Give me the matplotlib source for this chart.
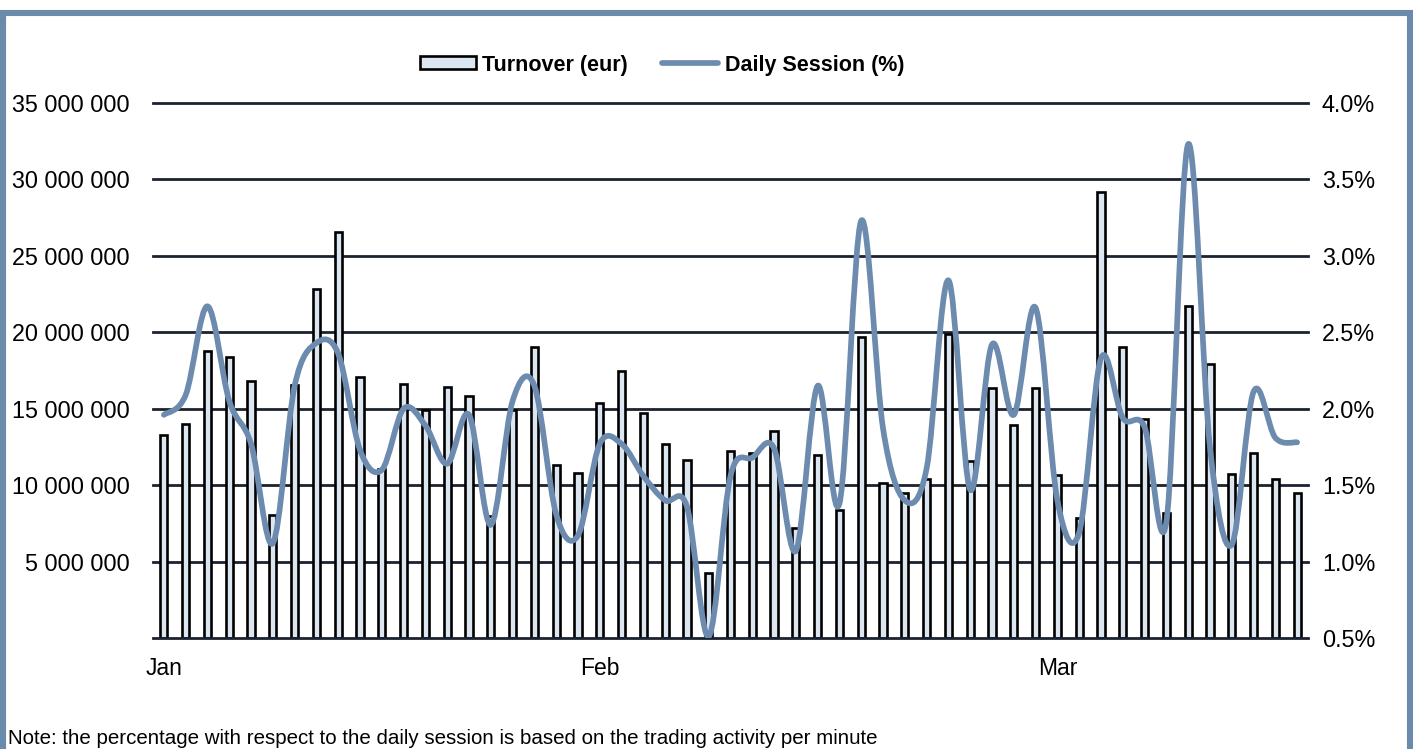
import numpy as np
import matplotlib
matplotlib.use("Agg")
import matplotlib.pyplot as plt
from matplotlib.path import Path
from matplotlib.patches import PathPatch, Rectangle
from matplotlib.lines import Line2D
from matplotlib.ticker import FuncFormatter

plt.rcParams["font.family"] = ["Liberation Sans", "DejaVu Sans"]

# daily turnover (eur), one value per trading day
turnover = [13.25, 14.03, 18.79, 18.40, 16.83, 8.02, 16.53, 22.86, 26.55, 17.06,
            11.06, 16.64, 14.89, 16.43, 15.83, 7.98, 14.89, 19.05, 11.34, 10.82,
            15.38, 17.48, 14.73, 12.69, 11.62, 4.28, 12.23, 12.11, 13.51, 7.18,
            11.99, 8.35, 19.68, 10.17, 9.47, 10.40, 19.92, 11.57, 16.36, 13.96,
            16.36, 10.64, 7.83, 29.15, 19.05, 14.31, 8.18, 21.74, 17.93, 10.75,
            12.11, 10.40, 9.47]
turnover = [v * 1e6 for v in turnover]

# share of daily session (%)
session = [1.96, 2.09, 2.67, 2.05, 1.77, 1.12, 2.15, 2.43, 2.36, 1.73,
           1.60, 2.00, 1.89, 1.64, 1.96, 1.24, 2.05, 2.15, 1.31, 1.17,
           1.77, 1.77, 1.56, 1.40, 1.36, 0.51, 1.56, 1.68, 1.74, 1.07,
           2.15, 1.38, 3.23, 1.87, 1.40, 1.61, 2.84, 1.47, 2.42, 1.96,
           2.66, 1.40, 1.19, 2.33, 1.94, 1.88, 1.26, 3.73, 1.75, 1.11,
           2.11, 1.81, 1.78]

month_labels = ["Jan", "Feb", "Mar"]
month_pos = [0, 20, 41]

left_ticks = [5e6, 10e6, 15e6, 20e6, 25e6, 30e6, 35e6]
right_ticks = [0.5, 1.0, 1.5, 2.0, 2.5, 3.0, 3.5, 4.0]

bar_fill = "#dce6f0"
line_col = "#6c8baf"
grid_col = "#1b2230"
frame_col = "#6b8bad"

fig = plt.figure(figsize=(14.13, 7.49), dpi=100)
ax = fig.add_axes([153 / 1413, 1 - 638 / 749, 1155 / 1413, 535 / 749])
ax2 = ax.twinx()

x = np.arange(len(turnover))
ax.set_xlim(-0.5, len(turnover) - 0.5)
ax.set_ylim(0, 35e6)
for t in left_ticks:
    ax.axhline(t, color=grid_col, lw=2.0, zorder=0, clip_on=False)
ax.axhline(0, color=grid_col, lw=2.0, zorder=3, clip_on=False)
ax.bar(x, turnover, width=0.33, color=bar_fill, edgecolor="black", linewidth=1.9, zorder=2)

ax.set_yticks(left_ticks)
ax.yaxis.set_major_formatter(FuncFormatter(lambda v, p: f"{int(v):,}".replace(",", " ")))
ax.set_xticks(month_pos)
ax.set_xticklabels(month_labels)
ax.tick_params(axis="y", length=0, pad=16.5, labelsize=16.8)
ax.tick_params(axis="x", length=0, pad=14, labelsize=16.5)
for s in ax.spines.values():
    s.set_visible(False)

# smoothed line (cubic Bezier through the daily points, like a spreadsheet "smooth line")
ax2.set_ylim(0.5, 4.0)
ax2.set_yticks(right_ticks)
ax2.yaxis.set_major_formatter(FuncFormatter(lambda v, p: f"{v:.1f}%"))
ax2.tick_params(axis="y", length=0, pad=10, labelsize=16.8)
for s in ax2.spines.values():
    s.set_visible(False)

pts = np.column_stack([x, session]).astype(float)
ext = np.vstack([pts[0], pts, pts[-1]])
verts = [tuple(pts[0])]
codes = [Path.MOVETO]
for i in range(len(pts) - 1):
    p0, p1, p2, p3 = ext[i], ext[i + 1], ext[i + 2], ext[i + 3]
    c1 = p1 + (p2 - p0) / 6
    c2 = p2 - (p3 - p1) / 6
    verts += [tuple(c1), tuple(c2), tuple(p2)]
    codes += [Path.CURVE4] * 3
ax2.add_patch(PathPatch(Path(verts, codes), facecolor="none", edgecolor=line_col,
                        lw=4.1, capstyle="round", joinstyle="round", zorder=4))

handles = [Rectangle((0, 0), 1, 1, facecolor=bar_fill, edgecolor="black", lw=1.9),
           Line2D([], [], color=line_col, lw=4.1, solid_capstyle="round")]
fig.legend(handles, ["Turnover (eur)", "Daily Session (%)"], loc="center",
           bbox_to_anchor=(662 / 1413, 1 - 65 / 749), ncol=2, frameon=False,
           prop={"weight": "bold", "size": 15.5}, handlelength=2.6, handleheight=0.55,
           handletextpad=0.3, columnspacing=1.6)

fig.text(8 / 1413, 1 - 738 / 749, "Note: the percentage with respect to the daily session "
         "is based on the trading activity per minute", fontsize=14.8, va="center", ha="left")

# outer frame
fig.add_artist(Rectangle((2.5 / 1413, -0.1), 1407.5 / 1413, 1.1 - 13 / 749,
                         transform=fig.transFigure, facecolor="none",
                         edgecolor=frame_col, lw=4.4, clip_on=False))

fig.savefig("out.png", dpi=100)
